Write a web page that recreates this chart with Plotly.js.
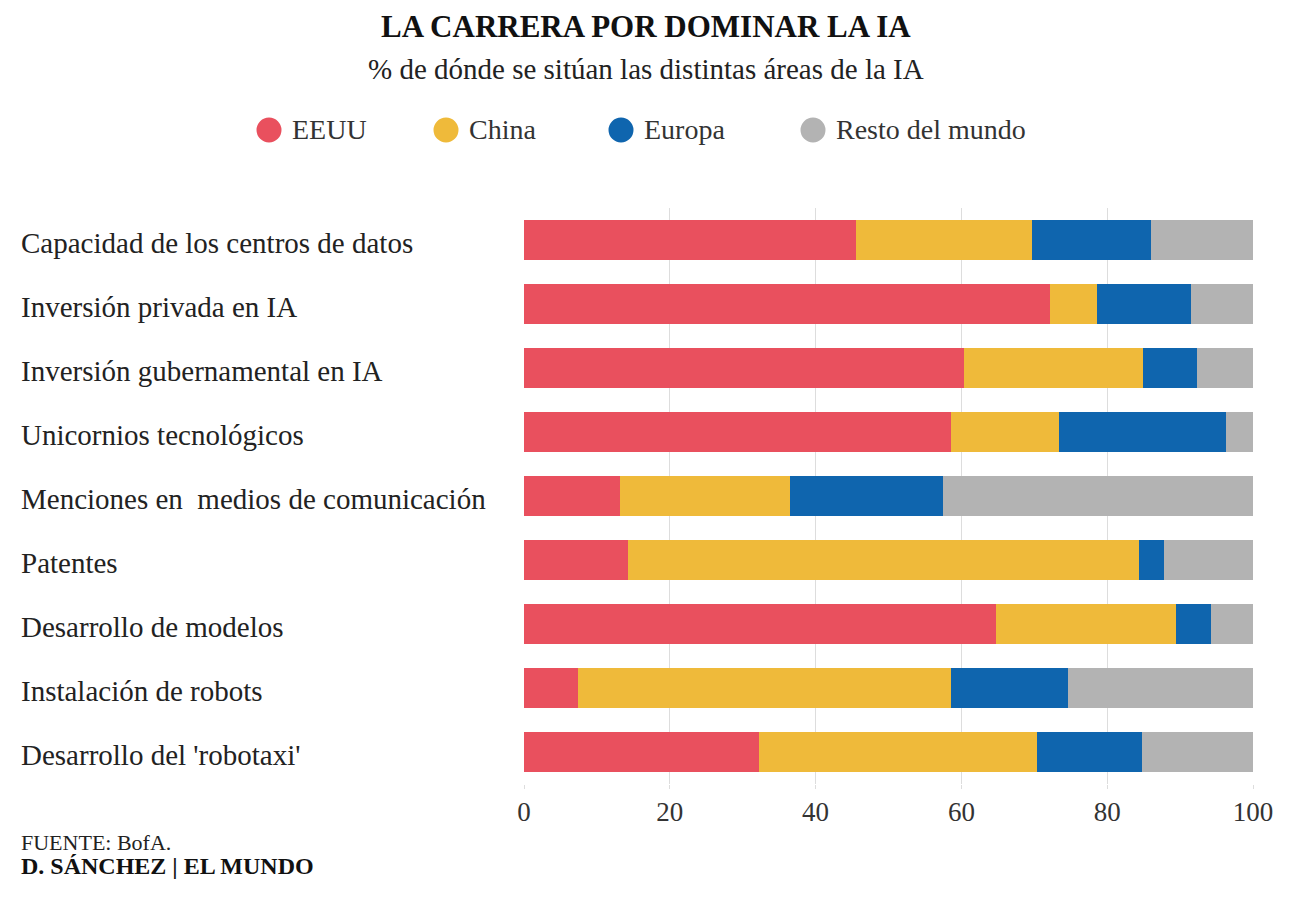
<!DOCTYPE html>
<html>
<head>
<meta charset="utf-8">
<script src="https://cdn.plot.ly/plotly-3.0.1.min.js"></script>
<style>
  html, body { margin: 0; padding: 0; background: #ffffff; }
  #chart { width: 1292px; height: 900px; }
</style>
</head>
<body>
<div id="chart"></div>
<script>
// Share (%) of each AI area by region
const categories = [
  "Capacidad de los centros de datos",
  "Inversión privada en IA",
  "Inversión gubernamental en IA",
  "Unicornios tecnológicos",
  "Menciones en  medios de comunicación",
  "Patentes",
  "Desarrollo de modelos",
  "Instalación de robots",
  "Desarrollo del 'robotaxi'"
];
const eeuu   = [45.5, 72.2, 60.3, 58.6, 13.2, 14.3, 64.8,  7.4, 32.2];
const china  = [24.2,  6.4, 24.6, 14.8, 23.3, 70.0, 24.6, 51.2, 38.2];
const europa = [16.3, 12.9,  7.4, 22.9, 21.0,  3.5,  4.8, 16.0, 14.4];
const resto  = [14.0,  8.5,  7.7,  3.7, 42.5, 12.2,  5.8, 25.4, 15.2];

const seriesNames  = ["EEUU", "China", "Europa", "Resto del mundo"];
const seriesValues = [eeuu, china, europa, resto];
const seriesColors = ["#E9505E", "#EFBA3A", "#0F65AE", "#B3B3B3"];
const xTicks = [0, 20, 40, 60, 80, 100];

const title = "LA CARRERA POR DOMINAR LA IA";
const subtitle = "% de dónde se sitúan las distintas áreas de la IA";
const source = "FUENTE: BofA.";
const credit = "D. SÁNCHEZ | EL MUNDO";

// Page geometry (px)
const W = 1292, H = 900;
const M = { l: 524, r: 39, t: 208, b: 116 };
const PW = W - M.l - M.r, PH = H - M.t - M.b;
const px = x => (x - M.l) / PW;        // pixel x -> paper x
const py = y => (H - M.b - y) / PH;    // pixel y -> paper y

const FONT = "Liberation Serif, Times New Roman, serif";

const traces = seriesNames.map((name, i) => ({
  type: "bar",
  orientation: "h",
  name: name,
  x: seriesValues[i],
  y: categories,
  marker: { color: seriesColors[i], line: { width: 0 } },
  showlegend: false,
  hovertemplate: "%{y}<br>" + name + ": %{x}%<extra></extra>"
}));

const annotations = [];
const shapes = [];

// Title block
annotations.push({
  xref: "paper", yref: "paper", x: px(W / 2), y: py(27),
  xanchor: "center", yanchor: "middle", showarrow: false,
  text: "<b>" + title + "</b>",
  font: { family: FONT, size: 31, color: "#111111" }
});
annotations.push({
  xref: "paper", yref: "paper", x: px(W / 2), y: py(69),
  xanchor: "center", yanchor: "middle", showarrow: false,
  text: subtitle,
  font: { family: FONT, size: 29, color: "#222222" }
});

// Legend: coloured dots with names
const legendDotX = [269, 446, 621, 813];
seriesNames.forEach((name, i) => {
  const cx = legendDotX[i], cy = 130, r = 12.5;
  shapes.push({
    type: "circle", xref: "paper", yref: "paper",
    x0: px(cx - r), x1: px(cx + r), y0: py(cy + r), y1: py(cy - r),
    fillcolor: seriesColors[i], line: { width: 0 }
  });
  annotations.push({
    xref: "paper", yref: "paper", x: px(cx + 21), y: py(130),
    xanchor: "left", yanchor: "middle", showarrow: false,
    text: name,
    font: { family: FONT, size: 28, color: "#333333" }
  });
});

// Category labels, left aligned at the page margin
categories.forEach(c => {
  annotations.push({
    xref: "paper", yref: "y", x: px(19), y: c,
    xanchor: "left", yanchor: "middle", showarrow: false, yshift: -3,
    text: c.replace(/  /g, " \u00a0"),
    font: { family: FONT, size: 29, color: "#222222" }
  });
});

// Footer
annotations.push({
  xref: "paper", yref: "paper", x: px(19), y: py(842),
  xanchor: "left", yanchor: "middle", showarrow: false,
  text: source,
  font: { family: FONT, size: 22, color: "#222222" }
});
annotations.push({
  xref: "paper", yref: "paper", x: px(19), y: py(866),
  xanchor: "left", yanchor: "middle", showarrow: false,
  text: "<b>" + credit + "</b>",
  font: { family: FONT, size: 24, color: "#111111" }
});

const layout = {
  width: W, height: H,
  margin: M,
  paper_bgcolor: "#ffffff",
  plot_bgcolor: "#ffffff",
  barmode: "stack",
  bargap: 0.36,
  showlegend: false,
  xaxis: {
    range: [0, 100],
    tickvals: xTicks,
    ticktext: xTicks.map(String),
    showgrid: true, gridcolor: "#dddddd", gridwidth: 1,
    zeroline: false, showline: false,
    ticks: "outside", ticklen: 4, tickcolor: "#dddddd",
    tickfont: { family: FONT, size: 27, color: "#333333" },
    fixedrange: true
  },
  yaxis: {
    type: "category",
    categoryorder: "array",
    categoryarray: categories,
    autorange: "reversed",
    showticklabels: false,
    showgrid: false, zeroline: false, showline: false, ticks: "",
    fixedrange: true
  },
  annotations: annotations,
  shapes: shapes
};

Plotly.newPlot("chart", traces, layout, { displayModeBar: false, responsive: false });
</script>
</body>
</html>
